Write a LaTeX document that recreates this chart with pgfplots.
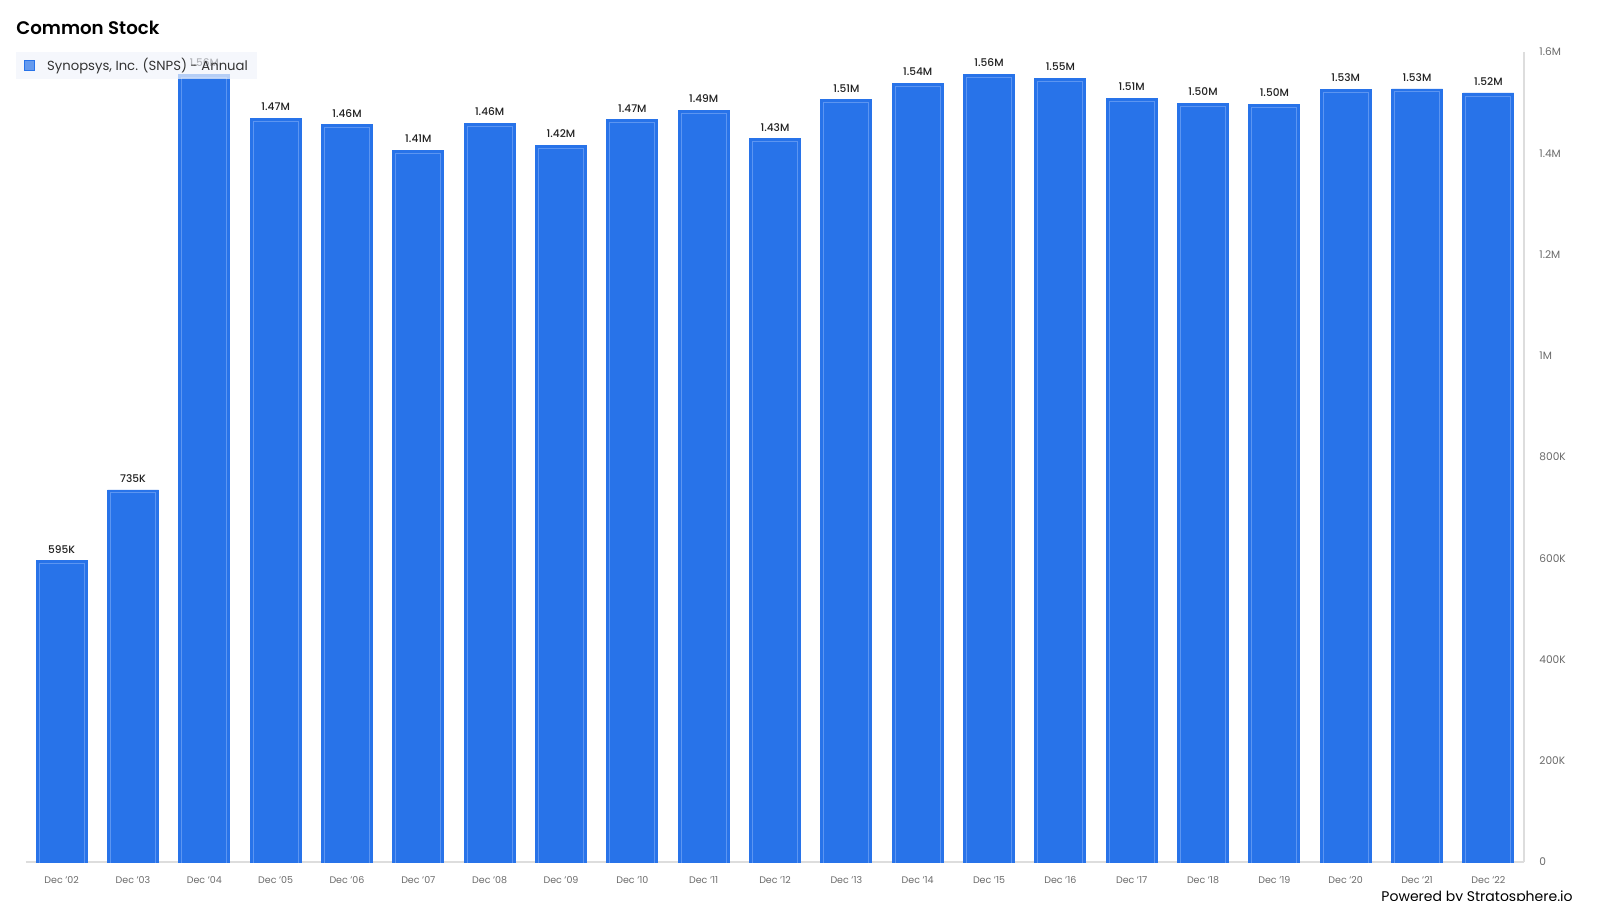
\documentclass[border=0pt]{standalone}
\usepackage{fontspec}
\setmainfont{Poppins}
\newfontfamily\semibold{Poppins SemiBold}
\newfontfamily\medium{Poppins Medium}
\usepackage{pgfplots}
\pgfplotsset{compat=1.18}
\usepackage{pgfplotstable}
\definecolor{barblue}{HTML}{2873E9}
\definecolor{barline}{HTML}{5C95F1}
\definecolor{legendbg}{HTML}{F2F5FC}
\definecolor{axisgray}{HTML}{DDDDDD}
\definecolor{ticktext}{HTML}{6B6B6B}
\definecolor{labeltext}{HTML}{222222}
\definecolor{legtext}{HTML}{333333}

\pgfplotstableread{
x y lab
0 595000 595K
1 735000 735K
2 1556000 1.56M
3 1469000 1.47M
4 1456000 1.46M
5 1406000 1.41M
6 1459000 1.46M
7 1416000 1.42M
8 1466000 1.47M
9 1485000 1.49M
10 1429000 1.43M
11 1506000 1.51M
12 1538000 1.54M
13 1556000 1.56M
14 1548000 1.55M
15 1509000 1.51M
16 1499000 1.50M
17 1497000 1.50M
18 1526000 1.53M
19 1527000 1.53M
20 1519000 1.52M
}\datatable

\begin{document}
\begin{tikzpicture}
\path[use as bounding box, fill=white] (0,0) rectangle (800pt,450pt);
\node[anchor=base west, font=\semibold\fontsize{9.1pt}{11pt}\selectfont, text=black, inner sep=0] at (8pt,432.8pt) {Common Stock};
\begin{axis}[
  at={(13pt,19pt)}, anchor=south west,
  scale only axis, width=749pt, height=405pt,
  xmin=-0.5, xmax=20.5, ymin=0, ymax=1600000,
  axis x line*=bottom, axis y line*=right,
  axis line style={-, draw=axisgray, line width=0.6pt},
  xtick={0,...,20},
  xticklabels={Dec '02,Dec '03,Dec '04,Dec '05,Dec '06,Dec '07,Dec '08,Dec '09,Dec '10,Dec '11,Dec '12,Dec '13,Dec '14,Dec '15,Dec '16,Dec '17,Dec '18,Dec '19,Dec '20,Dec '21,Dec '22},
  ytick={0,200000,400000,600000,800000,1000000,1200000,1400000,1600000},
  yticklabels={0,200K,400K,600K,800K,1M,1.2M,1.4M,1.6M},
  scaled y ticks=false,
  /pgf/number format/assume math mode=true,
  major tick length=0,
  xticklabel style={font=\fontsize{4.75pt}{5pt}\selectfont, text=ticktext, inner sep=0, anchor=center, yshift=-9pt},
  yticklabel style={font=\fontsize{5.3pt}{6pt}\selectfont, text=ticktext, inner sep=0, anchor=west, xshift=7.5pt},
  legend style={draw=none, fill=legendbg, fill opacity=0.7, text opacity=1,
    at={(rel axis cs:0,1)}, xshift=-5pt, anchor=north west,
    font=\fontsize{6.6pt}{7pt}\selectfont, text=legtext,
    inner xsep=4pt, inner ysep=4pt, column sep=5.5pt,
    nodes={inner xsep=0.5pt, inner ysep=0pt, text height=4.6pt, text depth=0pt}},
  legend cell align=left,
  legend image code/.code={\fill[barblue] (0pt,-2.5pt) rectangle (5pt,2.5pt);},
]
\addplot[ybar, bar shift=0pt, bar width=25.5pt, fill=barblue, draw=barblue, line width=0.4pt,
  nodes near coords, point meta=explicit symbolic,
  nodes near coords style={font=\medium\fontsize{5.3pt}{6pt}\selectfont, text=labeltext, anchor=south, inner sep=0, yshift=3.5pt}]
  table[x=x, y=y, meta=lab]{\datatable};
\addlegendentry{Synopsys, Inc. (SNPS) - Annual}
\addplot[ybar, bar shift=0pt, bar width=22.5pt, fill=none, draw=barline, line width=0.45pt, yshift=-1.5pt, forget plot]
  table[x=x, y=y]{\datatable};
\end{axis}
\node[anchor=base east, font=\fontsize{7pt}{8pt}\selectfont, text=black, inner sep=0] at (786.5pt,-0.5pt) {Powered by Stratosphere.io};
\end{tikzpicture}
\end{document}
